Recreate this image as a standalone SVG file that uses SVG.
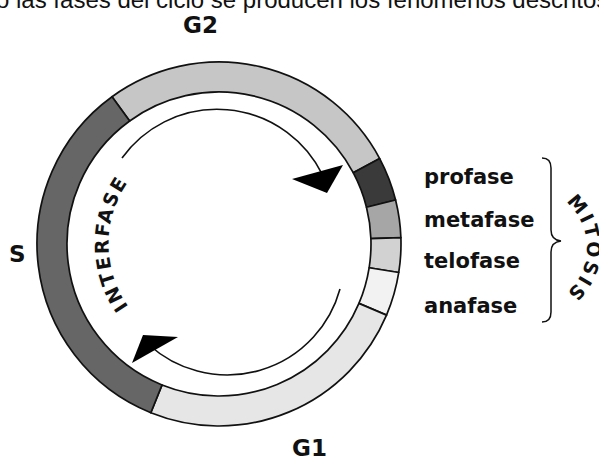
<svg xmlns="http://www.w3.org/2000/svg" width="599" height="459" viewBox="0 0 599 459">
<style>
.seg{stroke:#111;stroke-width:1.7;stroke-linejoin:round}
.lbl{font-family:"DejaVu Sans",sans-serif;font-weight:bold;fill:#111}
.big{font-size:23px}
.ph{font-size:21px}
.arc{fill:none;stroke:#111;stroke-width:1.6}
.head{fill:#000}
</style>
<rect width="599" height="459" fill="#fff"/>
<text x="-4" y="8" font-family="Liberation Sans, Arial, sans-serif" font-size="24" fill="#111">o las fases del ciclo se producen los fenómenos descritos</text>

<g id="G2">
<path class="seg" fill="#c6c6c6" d="M 112.02 96.76 A 182 182 0 0 1 379.69 158.55 L 353.20 172.64 A 152 152 0 0 0 129.65 121.03 Z"/>
<text class="lbl big" x="183" y="33">G2</text>
</g>
<g id="profase">
<path class="seg" fill="#3a3a3a" d="M 379.69 158.55 A 182 182 0 0 1 395.59 199.97 L 366.49 207.23 A 152 152 0 0 0 353.20 172.64 Z"/>
<text class="lbl ph" x="424" y="184">profase</text>
</g>
<g id="metafase">
<path class="seg" fill="#a6a6a6" d="M 395.59 199.97 A 182 182 0 0 1 400.89 237.65 L 370.91 238.70 A 152 152 0 0 0 366.49 207.23 Z"/>
<text class="lbl ph" x="424" y="227">metafase</text>
</g>
<g id="telofase">
<path class="seg" fill="#d2d2d2" d="M 400.89 237.65 A 182 182 0 0 1 398.76 272.47 L 369.13 267.77 A 152 152 0 0 0 370.91 238.70 Z"/>
<text class="lbl ph" x="424" y="268">telofase</text>
</g>
<g id="anafase">
<path class="seg" fill="#f2f2f2" d="M 398.76 272.47 A 182 182 0 0 1 386.53 315.11 L 358.92 303.39 A 152 152 0 0 0 369.13 267.77 Z"/>
<text class="lbl ph" x="424" y="313">anafase</text>
</g>
<g id="G1">
<path class="seg" fill="#e6e6e6" d="M 386.53 315.11 A 182 182 0 0 1 150.82 412.75 L 162.06 384.93 A 152 152 0 0 0 358.92 303.39 Z"/>
<text class="lbl big" x="292" y="456">G1</text>
</g>
<g id="S">
<path class="seg" fill="#666666" d="M 150.82 412.75 A 182 182 0 0 1 112.02 96.76 L 129.65 121.03 A 152 152 0 0 0 162.06 384.93 Z"/>
<text class="lbl big" x="9" y="262">S</text>
</g>

<g id="interfase">
<path id="pInter" d="M 128.9 307.1 A 108 108 0 0 1 128.9 180.9" fill="none"/>
<text class="lbl" font-size="19" letter-spacing="2"><textPath href="#pInter" startOffset="50%" text-anchor="middle">INTERFASE</textPath></text>
</g>

<g id="mitosis">
<path d="M 542 158 Q 551 158 551 168 L 551 230 Q 551 240 561 241 Q 551 242 551 252 L 551 312 Q 551 322 542 322" fill="none" stroke="#111" stroke-width="1.5"/>
<path id="pMit" d="M 547.5 191.6 A 60 60 0 0 1 547.5 304.4" fill="none"/>
<text class="lbl" font-size="19" letter-spacing="2.2"><textPath href="#pMit" startOffset="50%" text-anchor="middle">MITOSIS</textPath></text>
</g>

<g id="connectors">
<path class="arc" d="M 122 158 A 117.4 117.4 0 0 1 322.7 175.2"/>
<polygon class="head" points="292,179 343,165 327,193"/>
<path class="arc" d="M 340 289 A 116.9 116.9 0 0 1 149.1 345"/>
<polygon class="head" points="132,363 143,335 178,337"/>
</g>
</svg>
